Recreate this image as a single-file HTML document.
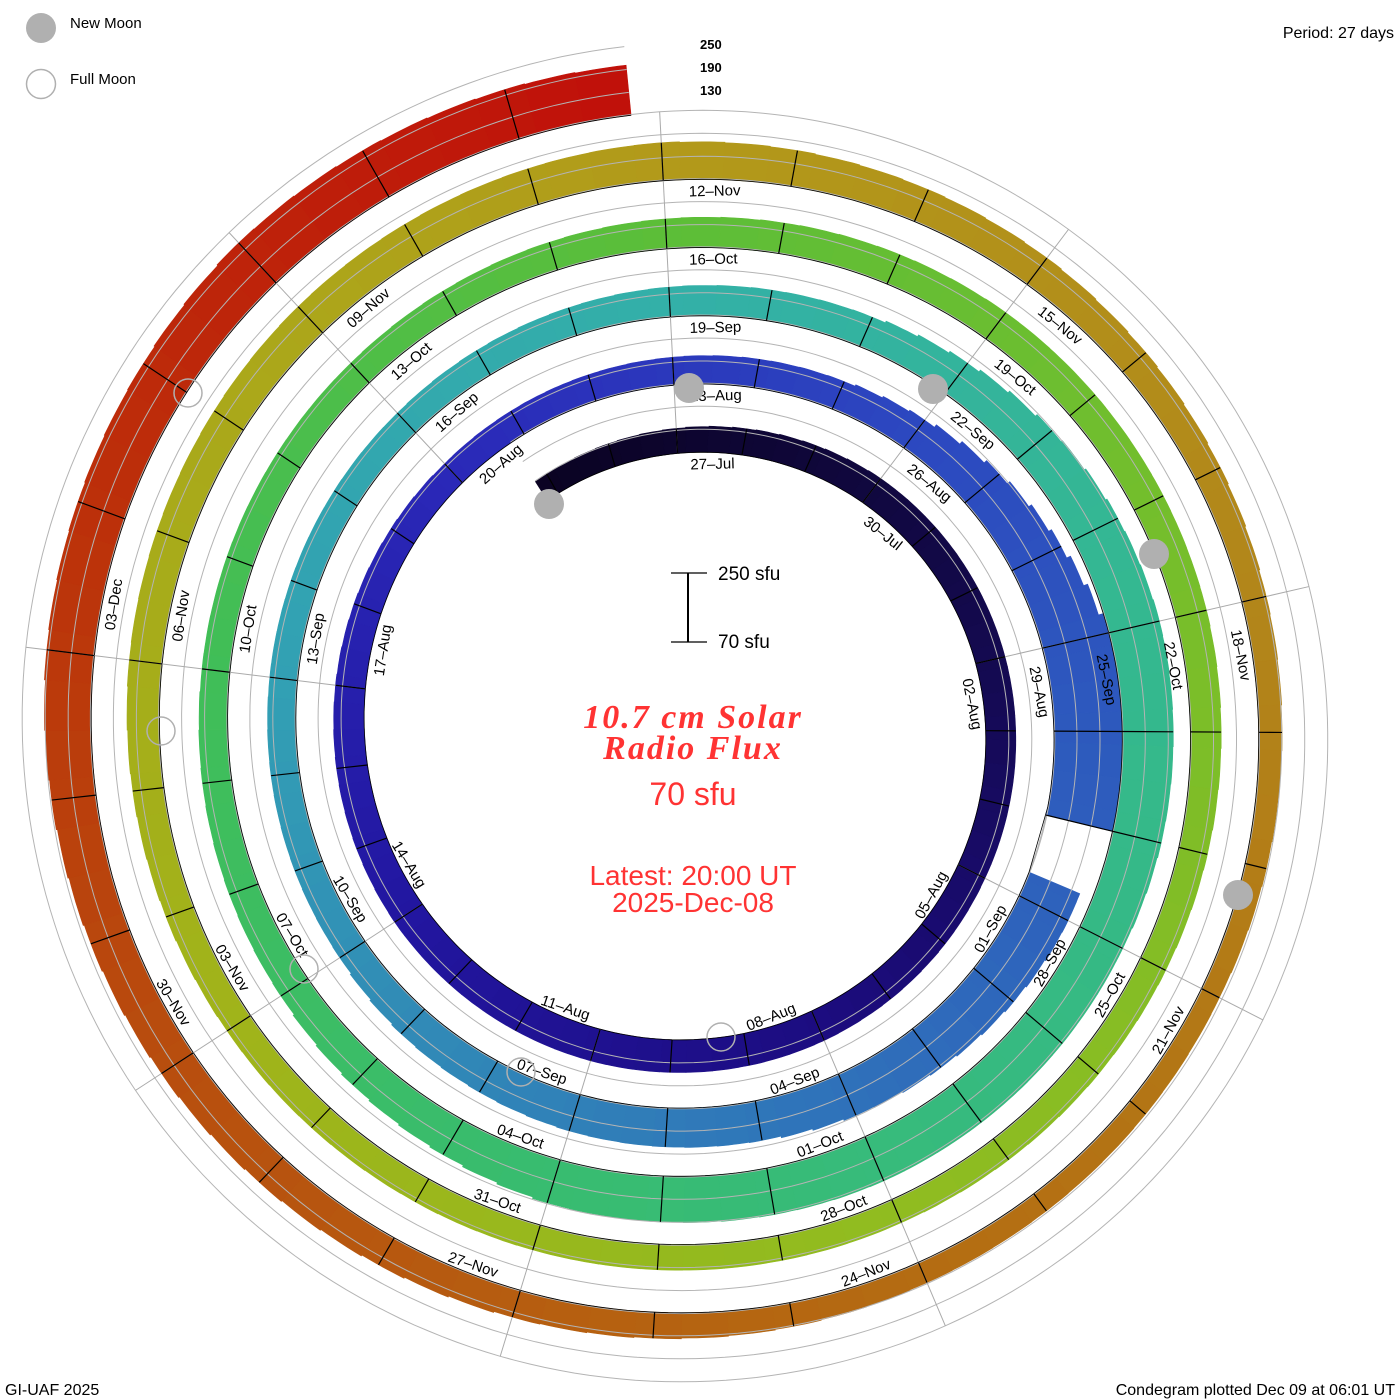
<!DOCTYPE html>
<html><head><meta charset="utf-8"><style>
html,body{margin:0;padding:0;background:#fff;width:1400px;height:1400px;overflow:hidden}
svg{display:block}
.sans{font-family:"Liberation Sans",sans-serif}
.ser{font-family:"Liberation Serif",serif;font-style:italic;font-weight:bold}
</style></head><body>
<svg id="s" xmlns="http://www.w3.org/2000/svg" width="1400" height="1400" viewBox="0 0 1400 1400" class="sans">
<rect width="1400" height="1400" fill="#fff"/>
<g id="grid"></g>
<g id="bars"></g>
<g id="over"></g>
<g id="labels" font-size="15" fill="#000" class="sans"></g>
<g id="moons" fill="none"></g>
<circle cx="41" cy="28" r="15" fill="#b0b0b0"/>
<circle cx="41" cy="84" r="14.5" fill="none" stroke="#b0b0b0" stroke-width="1.5"/>
<text x="70" y="28" font-size="15" class="sans">New Moon</text>
<text x="70" y="84" font-size="15" class="sans">Full Moon</text>
<text x="1394" y="38" font-size="16" text-anchor="end" class="sans">Period: 27 days</text>
<text x="700" y="49" font-size="13" font-weight="bold" class="sans">250</text>
<text x="700" y="72" font-size="13" font-weight="bold" class="sans">190</text>
<text x="700" y="95" font-size="13" font-weight="bold" class="sans">130</text>
<line x1="688" y1="573" x2="688" y2="642" stroke="#000" stroke-width="2"/>
<line x1="671" y1="573" x2="707" y2="573" stroke="#000" stroke-width="1.2"/>
<line x1="671" y1="642" x2="707" y2="642" stroke="#000" stroke-width="1.2"/>
<text x="718" y="580" font-size="19" class="sans">250 sfu</text>
<text x="718" y="648" font-size="19" class="sans">70 sfu</text>
<g fill="#ff3333" text-anchor="middle">
<text x="693" y="728" font-size="34" class="ser" letter-spacing="2">10.7 cm Solar</text>
<text x="693" y="759" font-size="34" class="ser" letter-spacing="2">Radio Flux</text>
<text x="693" y="805" font-size="32" class="sans">70 sfu</text>
<text x="693" y="885" font-size="28" class="sans">Latest: 20:00 UT</text>
<text x="693" y="912" font-size="28" class="sans">2025-Dec-08</text>
</g>
<text x="5" y="1395" font-size="16" class="sans">GI-UAF 2025</text>
<text x="1395" y="1395" font-size="16" text-anchor="end" class="sans">Condegram plotted Dec 09 at 06:01 UT</text>
</svg>
<script>
(function(){
var NS="http://www.w3.org/2000/svg";
var CX=692,CY=729,D0=-2.2,D1=134.8,G0=35.0,G1=35.7;
function th(d){return (-93+d*360/27)*Math.PI/180;}
function r0(d){return 276+2.528*d;}
function P(d,r){var a=th(d);return [CX+r*Math.cos(a),CY+r*Math.sin(a)];}
function el(g,tag,at,txt){var e=document.createElementNS(NS,tag);for(var k in at)e.setAttribute(k,at[k]);if(txt!=null)e.textContent=txt;document.getElementById(g).appendChild(e);return e;}
var H=[[-2.5,22],[0,25],[3,30],[6,30],[9,30],[12,32],[15,33],[18,33],[21,30],[24,26],[27,28],[29,30],[30,35],[31,45],[32,55],[33,68],[34,68],[35,68],[35.7,55],[36.2,55],[37,52],[38,48],[39,45],[40,40],[42,38],[44,34],[45,30],[48,28],[51,27],[54,30],[56,32],[57,38],[58,45],[59,50],[60,52],[62,50],[63,48],[66,48],[69,45],[70,40],[72,32],[75,28],[78,27],[81,30],[84,33],[87,32],[90,28],[93,25],[96,26],[99,28],[102,33],[105,36],[108,38],[111,33],[114,25],[117,20],[120,22],[123,28],[126,38],[129,48],[131,52],[132,55],[134.8,50]];
function interp(tab,d){for(var i=0;i<tab.length-1;i++){if(d<=tab[i+1][0]){var t=(d-tab[i][0])/(tab[i+1][0]-tab[i][0]);return [tab[i],tab[i+1],t];}}return [tab[tab.length-1],tab[tab.length-1],0];}
function hAt(d){var q=interp(H,d);return q[0][1]+(q[1][1]-q[0][1])*q[2];}
var C=[[-2.5,"#0a0320"],[6,"#140a50"],[12,"#1c0c80"],[18,"#2216a0"],[24,"#2a28b8"],[30,"#2c48c0"],[36,"#2e62bc"],[42,"#3080b8"],[48,"#32a0b4"],[54,"#33b0a8"],[60,"#34b890"],[69,"#38bc70"],[75,"#40be58"],[81,"#5cbe38"],[87,"#78be2a"],[93,"#90bc20"],[99,"#a0b41a"],[105,"#aca61a"],[108,"#b29a1a"],[114,"#b2861a"],[120,"#b46c12"],[126,"#b84e0e"],[130,"#bc300a"],[134.8,"#c0100a"]];
function hx(s){return [parseInt(s.substr(1,2),16),parseInt(s.substr(3,2),16),parseInt(s.substr(5,2),16)];}
function colAt(d){var q=interp(C,d),a=hx(q[0][1]),b=hx(q[1][1]),t=q[2];return "rgb("+[0,1,2].map(function(i){return Math.round(a[i]+(b[i]-a[i])*t);}).join(",")+")";}
var seg=1/3;
for(var d=D0;d<D1-1e-6;d+=seg){
  var e=Math.min(d+seg,D1);
  var a=d,b=e;
  if(a>=G0&&b<=G1)continue;
  if(a<G0&&b>G0)b=G0; if(a<G1&&b>G1&&a>=G0)a=G1;
  var h=hAt((a+b)/2), pts=[],n=6,i;
  for(i=0;i<=n;i++){var x=a+(b-a)*i/n;pts.push(P(x,r0(x)));}
  for(i=n;i>=0;i--){var x2=a+(b-a)*i/n;pts.push(P(x2,r0(x2)+h));}
  el("bars","polygon",{points:pts.map(function(p){return p[0].toFixed(1)+","+p[1].toFixed(1);}).join(" "),fill:colAt((a+b)/2),stroke:colAt((a+b)/2),"stroke-width":"0.6"});
}
[0,23,46,69].forEach(function(off){
  var pts=[];for(var x=D0;x<=D1;x+=0.1)pts.push(P(x,r0(x)+off));
  el(off==0?"grid":"over","polyline",{points:pts.map(function(p){return p[0].toFixed(1)+","+p[1].toFixed(1);}).join(" "),fill:"none",stroke:"#b4b4b4","stroke-width":"1"});
});
(function(){var pts=[];for(var x=D0;x<=D1;x+=0.1){if(x>G0&&x<G1)continue;pts.push(P(x,r0(x)));}
el("over","polyline",{points:pts.map(function(p){return p[0].toFixed(1)+","+p[1].toFixed(1);}).join(" "),fill:"none",stroke:"#000","stroke-width":"0.8"});})();
for(var k=0;k<9;k++){
  var dd=k*3; var first=dd; while(first-27>=D0)first-=27; var last=first; while(last+27<=D1)last+=27;
  var p1=P(first,r0(first)),p2=P(last,r0(last)+69);
  el("over","line",{x1:p1[0],y1:p1[1],x2:p2[0],y2:p2[1],stroke:"#aaaaaa","stroke-width":"1"});
}
for(var dd2=-2;dd2<=134;dd2++){
  if(dd2>G0&&dd2<G1)continue;
  var hh=hAt(dd2),q1=P(dd2,r0(dd2)),q2=P(dd2,r0(dd2)+hh);
  el("over","line",{x1:q1[0],y1:q1[1],x2:q2[0],y2:q2[1],stroke:"#000","stroke-width":"1.2"});
}
var M=["Jan","Feb","Mar","Apr","May","Jun","Jul","Aug","Sep","Oct","Nov","Dec"];
var base=Date.UTC(2025,6,27);
for(var d3=0;d3<=129;d3+=3){
  var dt=new Date(base+d3*86400000);
  var s=("0"+dt.getUTCDate()).slice(-2)+"\u2013"+M[dt.getUTCMonth()];
  var ang=th(d3)*180/Math.PI, sn=Math.sin(th(d3));
  var dl=d3+0.2;
  if(sn>0.05){
    var p=P(dl,r0(dl)-5);
    el("labels","text",{x:p[0].toFixed(1),y:p[1].toFixed(1),transform:"rotate("+(ang-90+1.5).toFixed(1)+" "+p[0].toFixed(1)+" "+p[1].toFixed(1)+")","text-anchor":"end"},s);
  }else{
    var p3=P(dl,r0(dl)-17);
    el("labels","text",{x:p3[0].toFixed(1),y:p3[1].toFixed(1),transform:"rotate("+(ang+90+1.5).toFixed(1)+" "+p3[0].toFixed(1)+" "+p3[1].toFixed(1)+")"},s);
  }
}
[[549,504],[689,388],[933,389],[1154,554],[1238,895]].forEach(function(c){el("moons","circle",{cx:c[0],cy:c[1],r:15,fill:"#b0b0b0"});});
[[188,393],[161,731],[304,969],[521,1072],[721,1037]].forEach(function(c){el("moons","circle",{cx:c[0],cy:c[1],r:14,fill:"none",stroke:"#b0b0b0","stroke-width":"1.5"});});
})();
</script>
</body></html>
